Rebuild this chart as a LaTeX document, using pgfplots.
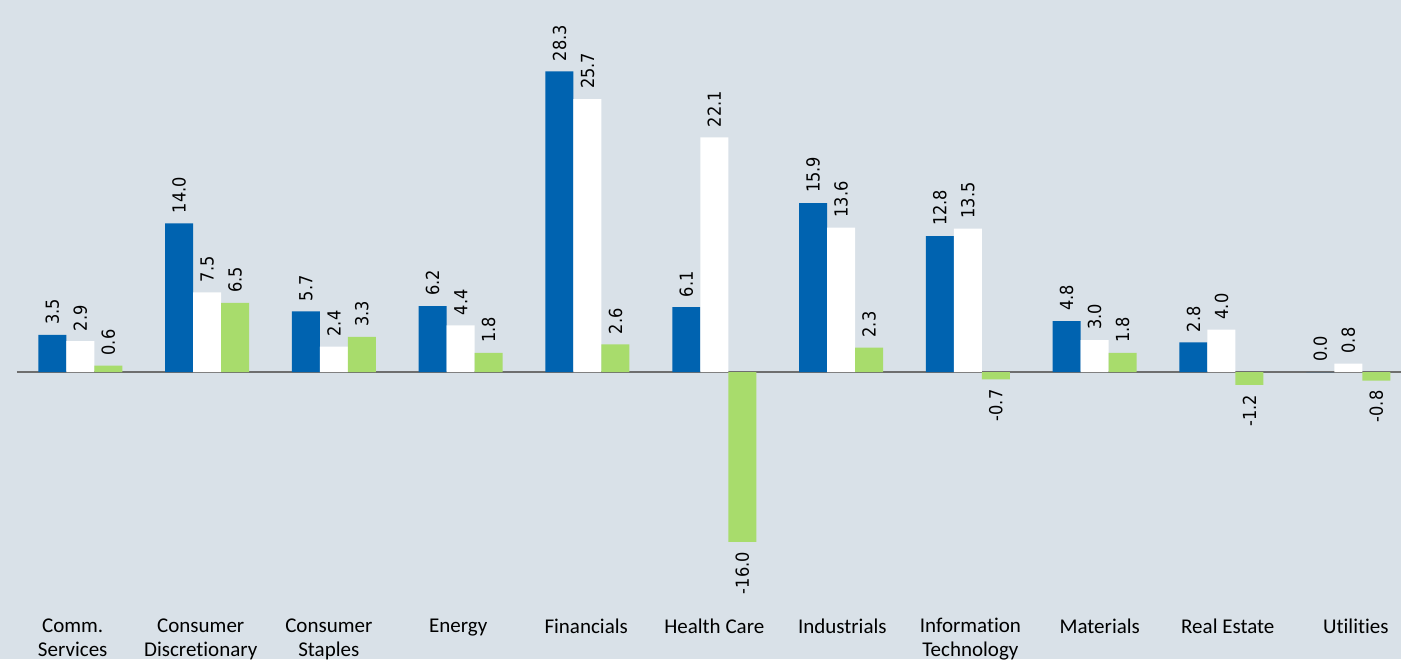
\documentclass[border=0pt]{standalone}
\usepackage{pgfplots}
\pgfplotsset{compat=1.18}
\usepackage{fontspec}
\setmainfont{Carlito}[Ligatures=NoCommon]
\newfontfamily\dejavu{DejaVu Sans Condensed}
\usetikzlibrary{backgrounds}
\definecolor{bg}{RGB}{217,225,232}
\definecolor{barblue}{RGB}{0,99,176}
\definecolor{bargreen}{RGB}{168,220,108}
\definecolor{zeroline}{RGB}{110,110,110}

\pgfplotsset{
  vlab/.style n args={2}{
    nodes near coords={\pgfmathprintnumber[fixed,fixed zerofill,precision=1,assume math mode=true]{\pgfplotspointmeta}},
    every node near coord/.append style={
      xshift=#2, rotate=90, anchor=#1, inner xsep=10pt, inner ysep=0pt,
      font=\dejavu\fontsize{18}{21}\selectfont, text=black},
  },
}

\begin{document}
\begin{tikzpicture}
\begin{axis}[
  scale only axis,
  width=1384.1pt, height=610pt,
  xmin=-0.5, xmax=10.416,
  ymin=-22.41, ymax=35.03,
  axis line style={draw=none},
  major tick length=0pt,
  ytick=\empty,
  xtick={-0.06,0.95,1.96,2.98,3.99,5.00,6.01,7.02,8.04,9.05,10.06},
  xticklabels={{Comm.\\Services},{Consumer\\Discretionary},{Consumer\\Staples},
    Energy,Financials,Health Care,Industrials,{Information\\Technology},
    Materials,Real Estate,Utilities},
  xticklabel style={align=center, anchor=north, yshift=-5pt,
    font=\fontsize{21}{24}\selectfont},
  clip=false,
]
\addplot[zeroline, line width=1.5pt, sharp plot, forget plot] coordinates {(-0.5,0) (10.416,0)};

\addplot[ybar, bar width=28pt, bar shift=-28pt, fill=barblue, draw=none, vlab={west}{-28pt}] coordinates {
  (0,3.5) (1,14.0) (2,5.7) (3,6.2) (4,28.3) (5,6.1) (6,15.9) (7,12.8) (8,4.8) (9,2.8) (10,0.0)};
\addplot[ybar, bar width=28pt, bar shift=0pt, fill=white, draw=none, vlab={west}{0pt}] coordinates {
  (0,2.9) (1,7.5) (2,2.4) (3,4.4) (4,25.7) (5,22.1) (6,13.6) (7,13.5) (8,3.0) (9,4.0) (10,0.8)};
\addplot[ybar, bar width=28pt, bar shift=28pt, fill=bargreen, draw=none, vlab={west}{28pt}] coordinates {
  (0,0.6) (1,6.5) (2,3.3) (3,1.8) (4,2.6) (6,2.3) (8,1.8)};
\addplot[ybar, bar width=28pt, bar shift=28pt, fill=bargreen, draw=none, vlab={east}{28pt}] coordinates {
  (5,-16.0) (7,-0.7) (9,-1.2) (10,-0.8)};
\end{axis}
\begin{scope}[on background layer]
\fill[bg] ([xshift=-16.9pt,yshift=-49pt]current axis.south west) rectangle (current axis.north east);
\end{scope}
\pgfresetboundingbox
\path[use as bounding box] ([xshift=-16.9pt,yshift=-49pt]current axis.south west) rectangle (current axis.north east);
\end{tikzpicture}
\end{document}
